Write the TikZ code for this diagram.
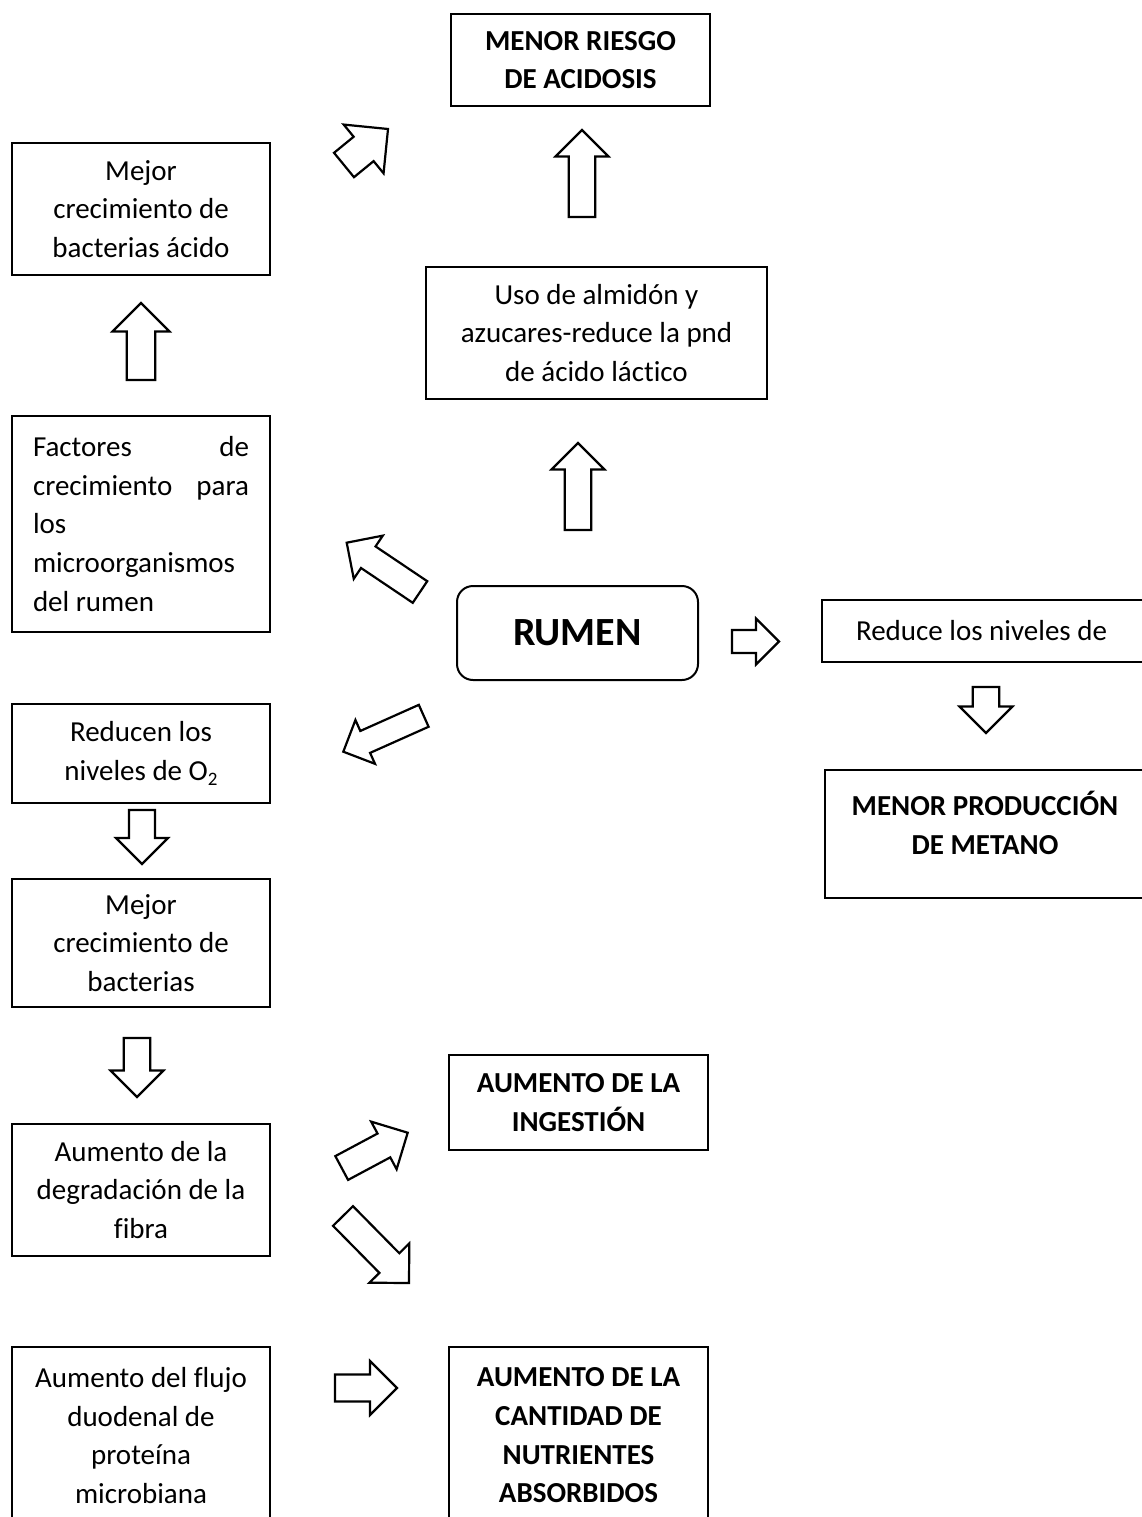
\documentclass[tikz,border=0pt]{standalone}
\usepackage{fontspec}
\setmainfont{Carlito}[Ligatures=NoCommon]
\usetikzlibrary{calc}

\tikzset{
  box/.style={draw, line width=2pt, align=center, inner sep=0pt,
    font=\fontsize{29}{38.7}\selectfont},
  hbox/.style={box, font=\bfseries\fontsize{29}{38.7}\selectfont},
  barrow/.style={draw, line width=2.2pt, fill=white, line join=miter},
}

% Outlined block arrow from a tail coordinate to a tip coordinate;
% #3 is the head width, shaft width and head length are half of it.
\newcommand\blockarrow[3]{%
  \coordinate (#1h) at ($(#2)!{#3*0.5pt}!(#1)$);
  \draw[barrow]
    ($(#1)!{#3*0.25pt}!90:(#2)$) -- ($(#1h)!{#3*0.25pt}!90:(#2)$) --
    ($(#1h)!{#3*0.5pt}!90:(#2)$) -- (#2) --
    ($(#1h)!{#3*0.5pt}!-90:(#2)$) -- ($(#1h)!{#3*0.25pt}!-90:(#2)$) --
    ($(#1)!{#3*0.25pt}!-90:(#2)$) -- cycle;}

\begin{document}
\begin{tikzpicture}[x=1pt, y=-1pt]
\useasboundingbox (0,0) rectangle (1142,1517);
\fill[white] (0,0) rectangle (1142,1517);
\clip (0,0) rectangle (1142,1517);

% central node
\node[draw, line width=2pt, rounded corners=16pt, minimum width=241pt,
      minimum height=94pt, inner sep=0pt,
      font=\bfseries\fontsize{40}{48}\selectfont] (rumen) at (577.5,633) {RUMEN};

% upper branch
\node[hbox, minimum width=259pt, minimum height=92pt] (acid) at (580.5,60)
  {MENOR RIESGO\\DE ACIDOSIS};
\node[box, minimum width=341pt, minimum height=132pt] (almidon) at (596.5,333)
  {Uso de almidón y\\azucares-reduce la pnd\\de ácido láctico};

% left column
\node[box, minimum width=258pt, minimum height=131pt] (acido) at (141,209)
  {Mejor\\crecimiento de\\bacterias ácido};
\node[box, minimum width=258pt, minimum height=216pt, text width=216pt,
      align=flush left, inner xsep=21pt] (factores) at (141,524)
  {Factores\hfill de\\crecimiento\hfill para\\los\\microorganismos\\del rumen};
\node[box, minimum width=258pt, minimum height=99pt] (oxigeno) at (141,753.5)
  {Reducen los\\niveles de O\raisebox{-0.18em}{\fontsize{19}{19}\selectfont 2}};
\node[box, minimum width=258pt, minimum height=128pt] (bacterias) at (141,943)
  {Mejor\\crecimiento de\\bacterias};
\node[box, minimum width=258pt, minimum height=132pt] (fibra) at (141,1190)
  {Aumento de la\\degradación de la\\fibra};
\node[box, minimum width=258pt, minimum height=177pt] (flujo) at (141,1435.5)
  {Aumento del flujo\\duodenal de\\proteína\\microbiana};

% middle column, lower part
\node[hbox, minimum width=259pt, minimum height=95pt] (ingestion) at (578.5,1102.5)
  {AUMENTO DE LA\\INGESTIÓN};
\node[hbox, minimum width=259pt, minimum height=177pt] (nutrientes) at (578.5,1435.5)
  {AUMENTO DE LA\\CANTIDAD DE\\NUTRIENTES\\ABSORBIDOS};

% right branch
\node[box, anchor=west, minimum height=62pt, text width=300pt, align=flush left,
      inner xsep=34pt] (metanonivel) at (821,631) {Reduce los niveles de};
\node[hbox, minimum width=320pt, minimum height=128pt] (metano) at (985,834)
  {\raisebox{7pt}[\height][\depth]{\begin{tabular}{@{}c@{}}MENOR PRODUCCIÓN\\DE METANO\end{tabular}}};

% arrow end points
\coordinate (a1) at (582,217);     \coordinate (a1p) at (582,130);
\coordinate (a2) at (578,530);     \coordinate (a2p) at (578,443);
\coordinate (a3) at (344,165);     \coordinate (a3p) at (388,129);
\coordinate (a4) at (420,592);     \coordinate (a4p) at (346.7,542.7);
\coordinate (a5) at (423.7,715.8); \coordinate (a5p) at (343.3,751.7);
\coordinate (a6) at (732,641.5);   \coordinate (a6p) at (779,641.5);
\coordinate (a7) at (986,687);     \coordinate (a7p) at (986,733);
\coordinate (a8) at (141,380);     \coordinate (a8p) at (141,303);
\coordinate (a9) at (142,810);     \coordinate (a9p) at (142,864);
\coordinate (a10) at (137,1038);   \coordinate (a10p) at (137,1097);
\coordinate (a11) at (341.7,1168); \coordinate (a11p) at (407.7,1132.7);
\coordinate (a12) at (343,1216);   \coordinate (a12p) at (409,1283);
\coordinate (a13) at (335,1388);   \coordinate (a13p) at (397,1388);

\blockarrow{a1}{a1p}{53}
\blockarrow{a2}{a2p}{53}
\blockarrow{a3}{a3p}{63}
\blockarrow{a4}{a4p}{52}
\blockarrow{a5}{a5p}{48}
\blockarrow{a6}{a6p}{46}
\blockarrow{a7}{a7p}{53}
\blockarrow{a8}{a8p}{57}
\blockarrow{a9}{a9p}{52}
\blockarrow{a10}{a10p}{53}
\blockarrow{a11}{a11p}{54}
\blockarrow{a12}{a12p}{56}
\blockarrow{a13}{a13p}{54}
\end{tikzpicture}
\end{document}
